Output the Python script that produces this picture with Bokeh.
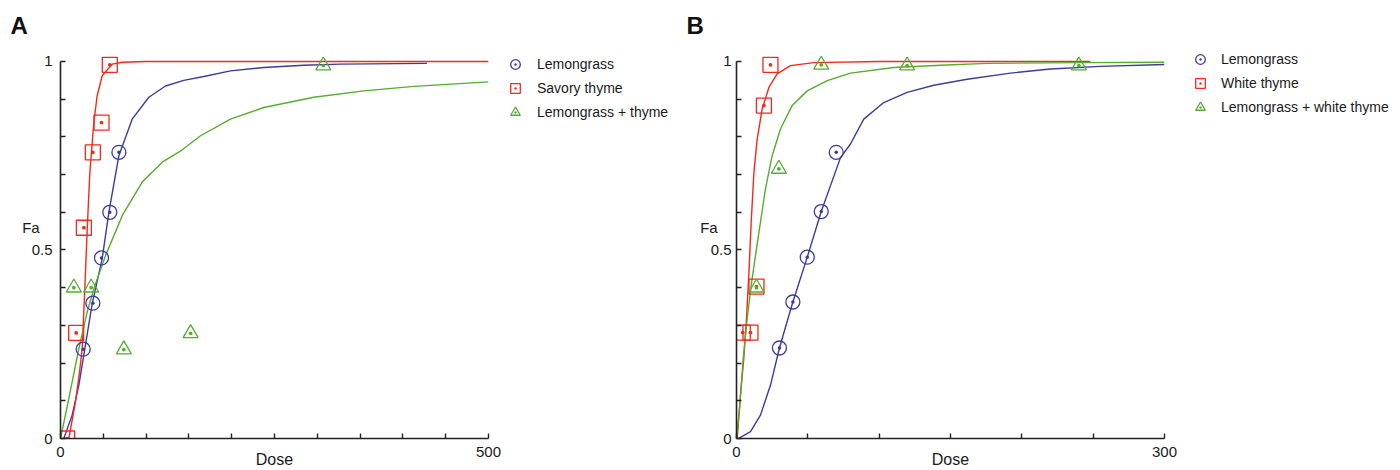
from bokeh.plotting import figure
from bokeh.models import Range1d, FixedTicker, Legend, LegendItem
from bokeh.layouts import row
from bokeh.embed import file_html
from bokeh.resources import INLINE

# ---------------- Panel A data ----------------
a_lemon_dose = [26.5, 37.8, 47.9, 57.6, 68.2]
a_lemon_fa = [0.237, 0.359, 0.479, 0.600, 0.759]
a_savory_dose = [7.8, 18.3, 27.3, 37.8, 47.9, 57.6]
a_savory_fa = [0.0, 0.280, 0.559, 0.759, 0.838, 0.991]
a_combo_dose = [15.6, 35.8, 74.0, 152.0, 307.0]
a_combo_fa = [0.40, 0.40, 0.236, 0.279, 0.989]

a_lemon_curve_dose = [3.9, 13.6, 21.4, 28.4, 37.0, 48.7, 56.5, 68.2, 83.7, 103.2, 122.7, 144.0, 167.4, 198.6, 237.5, 284.0, 327.0, 428.0]
a_lemon_curve_fa = [0.0, 0.062, 0.141, 0.238, 0.357, 0.477, 0.600, 0.750, 0.847, 0.905, 0.935, 0.950, 0.960, 0.975, 0.984, 0.990, 0.993, 0.995]
a_savory_curve_dose = [9.7, 17.5, 22.2, 25.3, 28.4, 31.2, 34.3, 38.9, 42.8, 48.7, 60.4, 72.0, 100.0, 200.0, 300.0, 400.0, 500.0]
a_savory_curve_fa = [0.0, 0.097, 0.176, 0.238, 0.397, 0.556, 0.706, 0.838, 0.909, 0.962, 0.993, 0.998, 1.0, 1.0, 1.0, 1.0, 1.0]
a_combo_curve_dose = [0.0, 9.7, 21.4, 31.1, 38.9, 52.6, 72.1, 95.4, 118.8, 140.0, 163.6, 198.6, 237.5, 296.0, 354.4, 412.8, 500.0]
a_combo_curve_fa = [0.0, 0.106, 0.238, 0.335, 0.397, 0.485, 0.591, 0.680, 0.733, 0.762, 0.803, 0.847, 0.878, 0.905, 0.922, 0.934, 0.946]

a_labels = ["Lemongrass", "Savory thyme", "Lemongrass + thyme"]

# ---------------- Panel B data ----------------
b_lemon_dose = [30.1, 39.5, 49.6, 59.4, 69.9]
b_lemon_fa = [0.240, 0.362, 0.481, 0.602, 0.759]
b_white_dose = [4.4, 9.8, 14.0, 19.2, 23.8]
b_white_fa = [0.281, 0.281, 0.403, 0.883, 0.991]
b_combo_dose = [14.0, 29.7, 59.4, 119.6, 240.0]
b_combo_fa = [0.40, 0.715, 0.991, 0.989, 0.989]

b_lemon_curve_dose = [1.4, 9.8, 16.8, 23.8, 30.1, 39.5, 49.6, 59.4, 72.9, 79.9, 89.2, 103.2, 119.6, 138.3, 161.7, 192.0, 220.0, 255.0, 300.0]
b_lemon_curve_fa = [0.0, 0.018, 0.062, 0.141, 0.240, 0.362, 0.481, 0.602, 0.745, 0.781, 0.847, 0.891, 0.918, 0.937, 0.953, 0.969, 0.980, 0.987, 0.992]
b_white_curve_dose = [0.5, 2.8, 5.1, 7.0, 8.6, 10.3, 12.2, 14.5, 18.0, 22.7, 28.5, 37.8, 54.2, 100.0, 150.0, 200.0, 248.0]
b_white_curve_fa = [0.0, 0.115, 0.212, 0.318, 0.432, 0.574, 0.706, 0.794, 0.874, 0.931, 0.967, 0.989, 0.997, 1.0, 1.0, 1.0, 1.0]
b_combo_curve_dose = [0.0, 2.3, 4.7, 7.5, 10.3, 13.3, 16.8, 20.3, 25.0, 30.8, 39.0, 49.6, 63.6, 79.9, 110.3, 143.0, 175.7, 240.0, 300.0]
b_combo_curve_fa = [0.0, 0.088, 0.212, 0.318, 0.406, 0.485, 0.574, 0.662, 0.750, 0.821, 0.883, 0.922, 0.949, 0.969, 0.984, 0.990, 0.995, 0.997, 0.998]

b_labels = ["Lemongrass", "White thyme", "Lemongrass + white thyme"]

BLUE = "#3d3a9e"
RED = "#f5281a"
GREEN = "#55ad2f"
AXIS = "#222222"
TEXT = "#1a1a1a"
FONT = "Liberation Sans"

COLORS = [BLUE, RED, GREEN]
MARKERS = ["circle_dot", "square_dot", "triangle_dot"]
SIZES = [14, 15, 15]

Y_TOP = 1.0397  # small headroom above Fa = 1 so top markers are not cut


def make_panel(letter, xmax, minor, series, curves, width, left_border,
               right_border, tick_standoff, fa_standoff, letter_offset):
    p = figure(width=width, height=470,
               min_border_left=left_border, min_border_right=right_border,
               min_border_top=46, min_border_bottom=31,
               x_range=Range1d(0, xmax), y_range=Range1d(0, Y_TOP),
               output_backend="svg", toolbar_location=None,
               background_fill_color="white", border_fill_color="white")
    p.outline_line_color = None
    p.grid.visible = False

    p.title.text = letter
    p.title.align = "left"
    p.title.offset = letter_offset
    p.title.standoff = 15
    p.title.text_font = FONT
    p.title.text_font_size = "24px"
    p.title.text_font_style = "bold"
    p.title.text_color = "#111111"

    for ax in (p.xaxis[0], p.yaxis[0]):
        ax.axis_line_color = AXIS
        ax.axis_line_width = 1.6
        ax.major_tick_line_color = AXIS
        ax.minor_tick_line_color = AXIS
        ax.major_tick_line_width = 1.4
        ax.minor_tick_line_width = 1.4
        ax.major_tick_in = 5
        ax.major_tick_out = 0
        ax.minor_tick_in = 5
        ax.minor_tick_out = 0
        ax.major_label_text_font = FONT
        ax.major_label_text_font_size = "15px"
        ax.major_label_text_color = TEXT
        ax.axis_label_text_font = FONT
        ax.axis_label_text_color = TEXT
        ax.axis_label_text_font_style = "normal"

    xa = p.xaxis[0]
    ya = p.yaxis[0]
    xa.major_label_standoff = 8
    ya.major_label_standoff = tick_standoff
    ya.bounds = (0, 1)

    xa.ticker = FixedTicker(ticks=[0, xmax], minor_ticks=minor)
    ya.ticker = FixedTicker(ticks=[0, 0.5, 1],
                            minor_ticks=[0.1, 0.2, 0.3, 0.4, 0.6, 0.7, 0.8, 0.9])
    ya.major_label_overrides = {0: "0", 0.5: "0.5", 1: "1"}
    xa.major_label_overrides = {0: "0", xmax: str(xmax)}

    xa.axis_label = "Dose"
    xa.axis_label_text_font_size = "16px"
    xa.axis_label_standoff = -9

    ya.axis_label = "Fa\n \n "
    ya.axis_label_orientation = "horizontal"
    ya.axis_label_text_font_size = "15px"
    ya.axis_label_text_line_height = 0.9
    ya.axis_label_standoff = fa_standoff

    for (cx, cy), c in zip(curves, COLORS):
        p.line(cx, cy, line_color=c, line_width=1.4)

    for (sx, sy), c, m, s in zip(series, COLORS, MARKERS, SIZES):
        p.scatter(sx, sy, marker=m, size=s, line_color=c, line_width=1.3,
                  fill_color=None)
    return p


def make_legend_fig(width, series, labels, loc, standoff):
    # legend-only figure: the same series, outside its (empty) view
    lf = figure(width=width, height=470, min_border=0,
                min_border_left=0, min_border_right=0,
                min_border_top=0, min_border_bottom=0,
                x_range=Range1d(-2, -1), y_range=Range1d(-2, -1),
                x_axis_location=None, y_axis_location=None,
                output_backend="svg", toolbar_location=None,
                background_fill_color="white", border_fill_color="white")
    lf.outline_line_color = None
    lf.grid.visible = False
    items = []
    for (sx, sy), c, m, s, lab in zip(series, COLORS, MARKERS, SIZES, labels):
        r = lf.scatter(sx, sy, marker=m, size=s, line_color=c, line_width=1.3,
                       fill_color=None)
        items.append(LegendItem(label=lab, renderers=[r]))
    legend = Legend(items=items, location=loc, orientation="vertical",
                    glyph_width=24, glyph_height=24, label_height=24,
                    spacing=0, padding=0, margin=0,
                    label_standoff=standoff,
                    label_text_font=FONT, label_text_font_size="14px",
                    label_text_color=TEXT, border_line_alpha=0,
                    background_fill_alpha=0)
    lf.add_layout(legend, "center")
    return lf


a_series = [(a_lemon_dose, a_lemon_fa), (a_savory_dose, a_savory_fa),
            (a_combo_dose, a_combo_fa)]
b_series = [(b_lemon_dose, b_lemon_fa), (b_white_dose, b_white_fa),
            (b_combo_dose, b_combo_fa)]

pa = make_panel("A", 500, [50, 100, 150, 200, 250, 300, 350, 400, 450],
                a_series,
                [(a_lemon_curve_dose, a_lemon_curve_fa),
                 (a_savory_curve_dose, a_savory_curve_fa),
                 (a_combo_curve_dose, a_combo_curve_fa)],
                502, 60, 14, 8, -11, -50)
la = make_legend_fig(178, a_series, a_labels, (1, 314), 10)

pb = make_panel("B", 300, [50, 100, 150, 200, 250],
                b_series,
                [(b_lemon_curve_dose, b_lemon_curve_fa),
                 (b_white_curve_dose, b_white_curve_fa),
                 (b_combo_curve_dose, b_combo_curve_fa)],
                498, 56, 14, 5, -10, -50)
lb = make_legend_fig(222, b_series, b_labels, (10, 319), 9)

layout = row(pa, la, pb, lb, spacing=0)
open("out.html", "w").write(file_html(layout, INLINE))
